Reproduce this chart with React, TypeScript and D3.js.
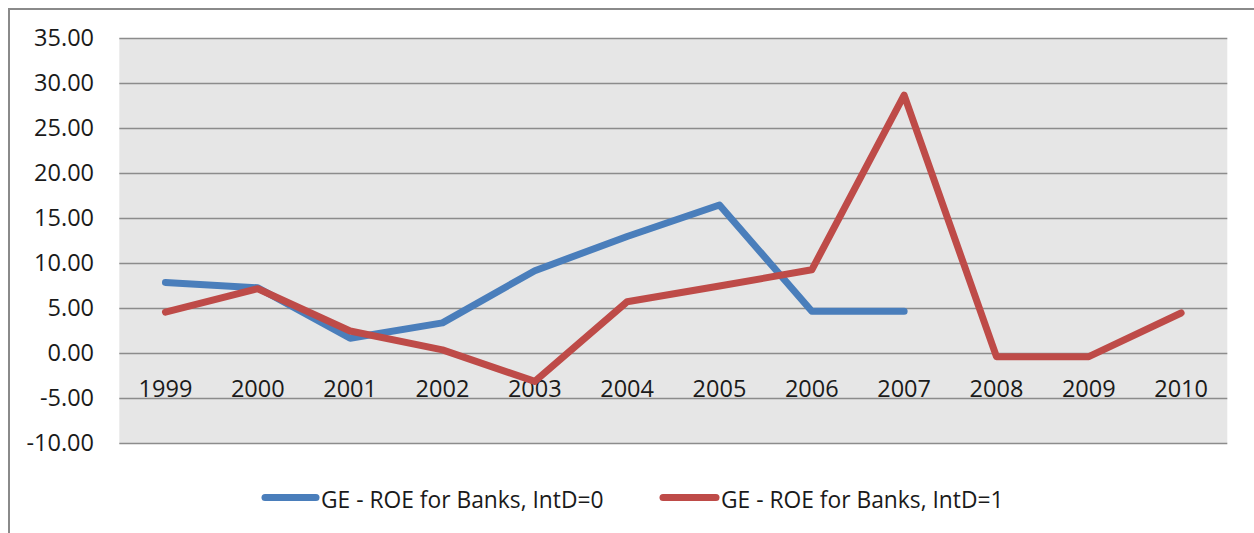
import React, { useEffect, useRef } from "react";
import * as d3 from "d3";

const years = ["1999", "2000", "2001", "2002", "2003", "2004", "2005", "2006", "2007", "2008", "2009", "2010"];
const intD0: (number | null)[] = [7.9, 7.3, 1.7, 3.4, 9.2, 13.0, 16.5, 4.7, 4.7, null, null, null];
const intD1: (number | null)[] = [4.6, 7.2, 2.5, 0.4, -3.1, 5.75, 7.5, 9.3, 28.7, -0.35, -0.35, 4.5];
const yTicks = [35, 30, 25, 20, 15, 10, 5, 0, -5, -10];
const seriesNames = ["GE - ROE for Banks, IntD=0", "GE - ROE for Banks, IntD=1"];
const seriesColors = ["#4A7EBB", "#BE4B48"];

const W = 1254;
const H = 533;
const FONT = "'Open Sans', 'Noto Sans', sans-serif";

export default function App() {
  const ref = useRef<SVGSVGElement | null>(null);

  useEffect(() => {
    const svg = d3.select(ref.current);
    svg.selectAll("*").remove();

    const plot = { left: 119.3, right: 1227.3, top: 38.5, bottom: 443.5 };
    const x = d3.scaleBand<string>().domain(years).range([plot.left, plot.right]);
    const y = d3.scaleLinear().domain([-10, 35]).range([plot.bottom, plot.top]);
    const cx = (yr: string) => (x(yr) as number) + x.bandwidth() / 2;
    // two decimals, plain hyphen for negatives
    const fmt = (v: number) => v.toFixed(2);

    // outer chart frame
    svg
      .append("rect")
      .attr("x", 9)
      .attr("y", 9)
      .attr("width", W + 20)
      .attr("height", H + 20)
      .attr("fill", "#fff")
      .attr("stroke", "#8a8a8a")
      .attr("stroke-width", 2);

    // plot area background
    svg
      .append("rect")
      .attr("x", plot.left)
      .attr("y", plot.top)
      .attr("width", plot.right - plot.left)
      .attr("height", plot.bottom - plot.top)
      .attr("fill", "#e6e6e6");

    // horizontal gridlines
    svg
      .append("g")
      .selectAll("line")
      .data(yTicks)
      .join("line")
      .attr("x1", plot.left)
      .attr("x2", plot.right)
      .attr("y1", (d) => y(d))
      .attr("y2", (d) => y(d))
      .attr("stroke", "#8c8c8c")
      .attr("stroke-width", 1.4);

    // value axis labels
    svg
      .append("g")
      .selectAll("text")
      .data(yTicks)
      .join("text")
      .attr("x", 94)
      .attr("y", (d) => y(d) + 7)
      .attr("text-anchor", "end")
      .attr("font-family", FONT)
      .attr("font-size", 23.5)
      .attr("fill", "#1a1a1a")
      .text((d) => fmt(d));

    // category labels, sitting just below the zero line
    svg
      .append("g")
      .selectAll("text")
      .data(years)
      .join("text")
      .attr("x", (d) => cx(d))
      .attr("y", y(0) + 43)
      .attr("text-anchor", "middle")
      .attr("font-family", FONT)
      .attr("font-size", 23.5)
      .attr("fill", "#1a1a1a")
      .text((d) => d);

    const line = d3
      .line<number | null>()
      .defined((d) => d !== null)
      .x((_, i) => cx(years[i]))
      .y((d) => y(d as number));

    [intD0, intD1].forEach((vals, i) => {
      svg
        .append("path")
        .datum(vals)
        .attr("d", line)
        .attr("fill", "none")
        .attr("stroke", seriesColors[i])
        .attr("stroke-width", 7)
        .attr("stroke-linecap", "round")
        .attr("stroke-linejoin", "round");
    });

    // legend
    const legendItems = [
      { x0: 265, x1: 316, tx: 321 },
      { x0: 663, x1: 716, tx: 721 },
    ];
    legendItems.forEach((it, i) => {
      svg
        .append("line")
        .attr("x1", it.x0)
        .attr("x2", it.x1)
        .attr("y1", 497.5)
        .attr("y2", 497.5)
        .attr("stroke", seriesColors[i])
        .attr("stroke-width", 7)
        .attr("stroke-linecap", "round");
      svg
        .append("text")
        .attr("x", it.tx)
        .attr("y", 508)
        .attr("font-family", FONT)
        .attr("font-size", 22.8)
        .attr("fill", "#1a1a1a")
        .text(seriesNames[i]);
    });
  }, []);

  return (
    <svg
      ref={ref}
      width={W}
      height={H}
      style={{ position: "absolute", left: 0, top: 0, display: "block" }}
    />
  );
}
